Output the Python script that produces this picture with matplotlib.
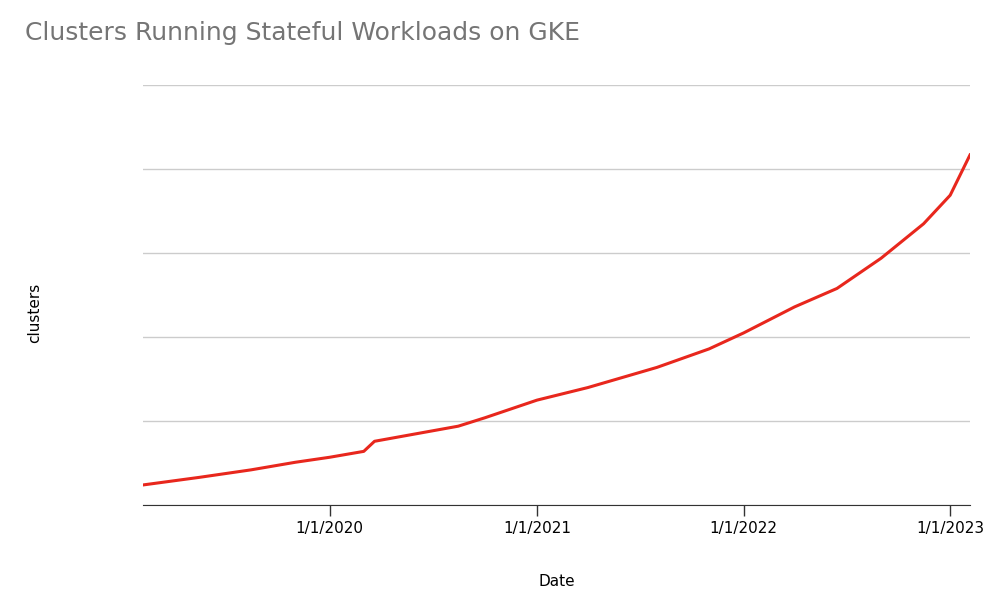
import numpy as np
import matplotlib.pyplot as plt
import matplotlib.dates as mdates
from datetime import datetime

dates = ["2019-02-05", "2019-05-15", "2019-08-15", "2019-11-01", "2020-01-01",
         "2020-03-01", "2020-03-20", "2020-08-15", "2020-10-01", "2021-01-01",
         "2021-04-01", "2021-08-01", "2021-11-01", "2022-01-01", "2022-04-01",
         "2022-06-15", "2022-09-01", "2022-11-15", "2023-01-01", "2023-02-05"]
clusters = [0.24, 0.33, 0.42, 0.51, 0.57,
            0.64, 0.76, 0.94, 1.04, 1.25,
            1.40, 1.64, 1.86, 2.05, 2.36,
            2.58, 2.94, 3.35, 3.69, 4.17]
tick_dates = ["2020-01-01", "2021-01-01", "2022-01-01", "2023-01-01"]
tick_labels = ["1/1/2020", "1/1/2021", "1/1/2022", "1/1/2023"]

x = [datetime.fromisoformat(d) for d in dates]

fig = plt.figure(figsize=(10, 6.13), dpi=100)
ax = fig.add_axes([0.143, 0.176, 0.827, 0.685])
ax.plot(x, clusters, color="#e8271d", lw=2.2)
ax.set_xlim(datetime(2019, 2, 5), datetime(2023, 2, 5))
ax.set_ylim(0, 5)
ax.set_yticks(range(6))
ax.set_yticklabels([])
ax.tick_params(axis="y", length=0)
ax.grid(axis="y", color="#cccccc", lw=1)
ax.set_xticks([datetime.fromisoformat(d) for d in tick_dates])
ax.set_xticklabels(tick_labels, fontsize=11)
ax.tick_params(axis="x", length=8, width=1, color="#333333")
for s in ["top", "right", "left"]:
    ax.spines[s].set_visible(False)
ax.spines["bottom"].set_color("#333333")
ax.set_axisbelow(True)
ax.set_xlabel("Date", fontsize=11, labelpad=27)
fig.text(0.035, 0.49, "clusters", fontsize=11, rotation=90, ha="center", va="center")
fig.text(0.025, 0.935, "Clusters Running Stateful Workloads on GKE",
         fontsize=18, color="#757575")
fig.savefig("out.png")
